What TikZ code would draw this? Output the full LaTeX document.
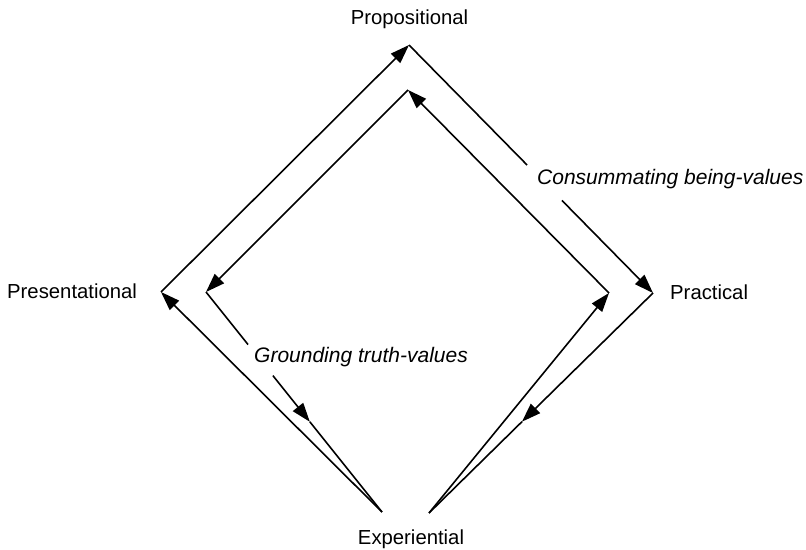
\documentclass[tikz,border=0pt]{standalone}
\usepackage{fontspec}
\setmainfont{Liberation Sans}
\usetikzlibrary{arrows.meta,calc}
\begin{document}
\begin{tikzpicture}[x=1bp,y=-1bp,
  flow/.style={line width=1.6bp,line join=miter,-{Triangle[length=19bp,width=13bp]}},
  plain/.style={line width=1.6bp},
  pole/.style={font=\fontsize{20.3bp}{24bp}\selectfont,inner sep=0pt},
  mode/.style={font=\fontsize{21bp}{25bp}\selectfont\itshape,inner sep=0pt}]
\useasboundingbox[fill=white] (0,0) rectangle (806,550);

% corner points of the two diamonds
\coordinate (EL) at (382,512);
\coordinate (ER) at (429,513);
\coordinate (L)  at (161,292);
\coordinate (Li) at (206,292);
\coordinate (T)  at (409,45);
\coordinate (Ti) at (408,90);
\coordinate (R)  at (653,293);
\coordinate (Ri) at (609,293);

% pole labels
\node[pole,anchor=base] (prop) at (409.5,25) {Propositional};
\node[pole,anchor=base] (exp) at (411,544) {Experiential};
\node[pole,anchor=base west] (pres) at (7,299) {Presentational};
\node[pole,anchor=base west] (prac) at (670,300) {Practical};

% cycle labels
\node[mode,anchor=base west] (cons) at (537,185) {Consummating being-values};
\node[mode,anchor=base west] (grnd) at (254,362) {Grounding truth-values};

% outer cycle
\draw[flow] (EL) -- (L);
\draw[flow] (L) -- (T);
\draw[plain] (T) -- ($(T)!0.484!(R)$);
\draw[flow] ($(T)!0.627!(R)$) -- (R);
\draw[flow] (R) -- ($(R)!0.585!(ER)$);
\draw[plain] ($(R)!0.585!(ER)$) -- (ER);

% inner cycle
\draw[flow] (ER) -- (Ri);
\draw[flow] (Ri) -- (Ti);
\draw[flow] (Ti) -- (Li);
\draw[plain] (Li) -- ($(Li)!0.239!(EL)$);
\draw[flow] ($(Li)!0.38!(EL)$) -- ($(Li)!0.59!(EL)$);
\draw[plain] ($(Li)!0.59!(EL)$) -- (EL);
\end{tikzpicture}
\end{document}
